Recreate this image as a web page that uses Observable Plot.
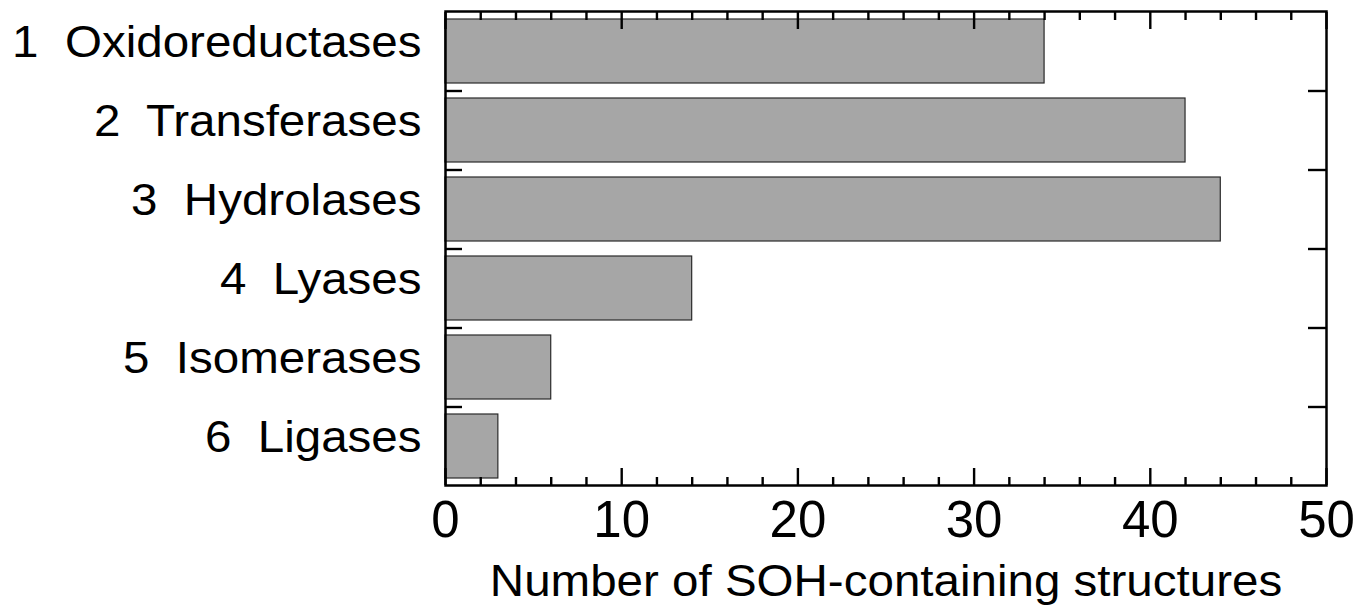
<!DOCTYPE html>
<html>
<head>
<meta charset="utf-8">
<script src="https://cdn.jsdelivr.net/npm/d3@7"></script>
<script src="https://cdn.jsdelivr.net/npm/@observablehq/plot@0.6"></script>
<style>
  html, body { margin: 0; padding: 0; background: #fff; }
  svg { font-family: "Liberation Sans", Arial, sans-serif; }
</style>
</head>
<body>
<div id="chart"></div>
<script>
const categories = ["1  Oxidoreductases", "2  Transferases", "3  Hydrolases", "4  Lyases", "5  Isomerases", "6  Ligases"];
const counts = [34, 42, 44, 14, 6, 3];
const majorTicks = [0, 10, 20, 30, 40, 50];
const minorTicks = [2, 4, 6, 8, 12, 14, 16, 18, 22, 24, 26, 28, 32, 34, 36, 38, 42, 44, 46, 48];
const xLabel = "Number of SOH-containing structures";

const data = categories.map((c, i) => ({category: c, value: counts[i]}));

const W = 1358, H = 610;
const mTop = 11, mBottom = 125, mLeft = 445, mRight = 32;
const pInner = 0.19, pOuter = 0.095;
const step = (H - mTop - mBottom) / (categories.length - pInner + 2 * pOuter);
const boundaries = categories.slice(0, -1);
const tickStyle = {text: null, stroke: "#000", strokeOpacity: 1, strokeWidth: 2.4, label: null};

const chart = Plot.plot({
  width: W,
  height: H,
  marginTop: mTop,
  marginBottom: mBottom,
  marginLeft: mLeft,
  marginRight: mRight,
  style: {fontFamily: "'Liberation Sans', Arial, sans-serif", background: "#fff", color: "#000"},
  x: {domain: [0, 50]},
  y: {domain: categories, paddingInner: pInner, paddingOuter: pOuter},
  marks: [
    Plot.barX(data, {x: "value", y: "category", fill: "#a6a6a6", stroke: "#2a2a2a", strokeWidth: 1.2}),
    // bottom axis
    Plot.axisX(minorTicks, {anchor: "bottom", tickSize: -8, ...tickStyle}),
    Plot.axisX(majorTicks, {anchor: "bottom", tickSize: -17, ...tickStyle}),
    Plot.axisX(majorTicks, {anchor: "bottom", tickSize: 0, tickPadding: 15, fontSize: 51, fill: "#000", label: null}),
    // top axis
    Plot.axisX(minorTicks, {anchor: "top", tickSize: -8, ...tickStyle}),
    Plot.axisX(majorTicks, {anchor: "top", tickSize: -17, ...tickStyle}),
    // y axis labels
    Plot.axisY({anchor: "left", tickSize: 0, tickPadding: 24, fontSize: 44, dy: -8.6, fill: "#000", label: null}),
    // boundary ticks between categories
    Plot.axisY(boundaries, {anchor: "left", tickSize: -17, dy: step / 2, ...tickStyle}),
    Plot.axisY(boundaries, {anchor: "right", tickSize: -19, dy: step / 2, ...tickStyle}),
    Plot.frame({stroke: "#000", strokeWidth: 2.5}),
    Plot.text([xLabel], {frameAnchor: "bottom", lineAnchor: "bottom", dy: 110, fontSize: 44, text: d => d, fill: "#000"})
  ]
});

document.getElementById("chart").appendChild(chart);

// slight horizontal stretch of the label glyphs as in the reference
const stretch = 1.08;
chart.querySelectorAll('g[aria-label="y-axis tick label"] text, g[aria-label="text"] text').forEach(t => {
  const len = t.getComputedTextLength();
  t.setAttribute("textLength", (len * stretch).toFixed(1));
  t.setAttribute("lengthAdjust", "spacingAndGlyphs");
});
</script>
</body>
</html>
